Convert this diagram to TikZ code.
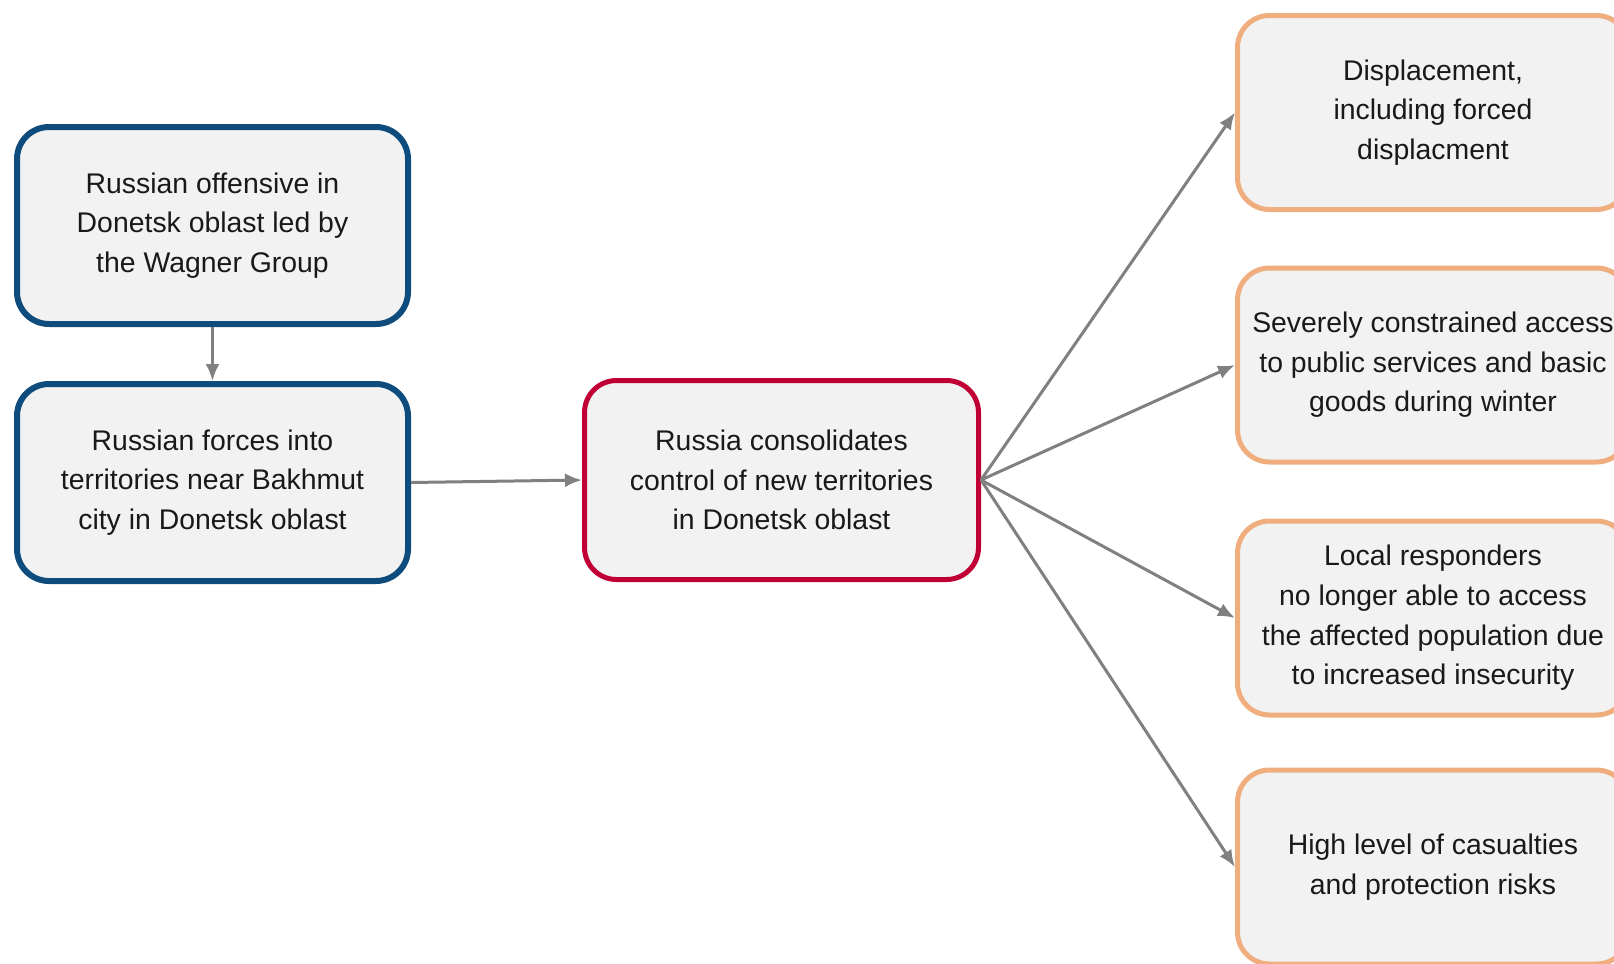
\documentclass[tikz,border=0pt]{standalone}
\usepackage{fontspec}
\setmainfont{Liberation Sans}
\usetikzlibrary{arrows.meta}
\definecolor{boxblue}{HTML}{0E4C7E}
\definecolor{boxred}{HTML}{C00034}
\definecolor{boxorange}{HTML}{F0AE7E}
\definecolor{boxfill}{HTML}{F2F2F2}
\definecolor{arrgray}{HTML}{808080}
\tikzset{
  box/.style={draw, fill=boxfill, rounded corners=16pt, align=center, inner sep=0pt,
    text=black!90, font=\fontsize{14.2}{19.8}\selectfont,
    execute at begin node={\rule{0pt}{16.9pt}}},
  bluebox/.style={box, draw=boxblue, line width=3pt, minimum width=195.5pt, minimum height=98.5pt},
  redbox/.style={box, draw=boxred, line width=2.5pt, minimum width=197pt, minimum height=99.5pt},
  orangebox/.style={box, draw=boxorange, line width=2.5pt, minimum width=195.5pt, minimum height=97pt},
  arr/.style={draw=arrgray, line width=1.5pt, -{Latex[length=8.5pt,width=7pt]}}
}
\begin{document}
\begin{tikzpicture}[x=0.5pt,y=-0.5pt]
\useasboundingbox (0,0) rectangle (1614,964);
\clip (0,0) rectangle (1614,964);
% causes
\node (offensive) at (212.5,225.5) [bluebox] {Russian offensive in\\Donetsk oblast led by\\the Wagner Group};
\node (forces) at (212.5,482.5) [bluebox] {Russian forces into\\territories near Bakhmut\\city in Donetsk oblast};
\node (control) at (781.5,480) [redbox] {Russia consolidates\\control of new territories\\in Donetsk oblast};
% consequences
\node (displace) at (1433,112.5) [orangebox] {Displacement,\\including forced\\displacment};
\node (access) at (1433,365) [orangebox] {Severely constrained access\\to public services and basic\\goods during winter};
\node (responders) at (1433,618) [orangebox] {Local responders\\no longer able to access\\the affected population due\\to increased insecurity};
\node (casualties) at (1433,867) [orangebox] {High level of casualties\\and protection risks};
\draw [arr] (offensive.south) -- (forces.north);
\draw [arr] (forces.east) -- (control.west);
\foreach \target in {displace,access,responders,casualties}
  \draw [arr] (control.east) -- (\target.west);
\end{tikzpicture}
\end{document}
